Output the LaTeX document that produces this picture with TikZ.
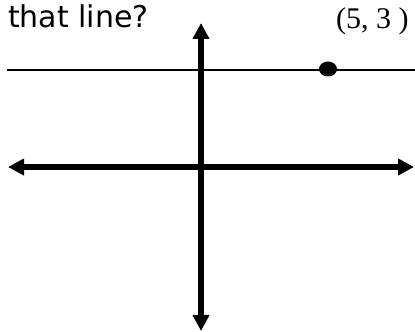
\documentclass[tikz,border=0pt]{standalone}
\usepackage{fontspec}
\setmainfont{Liberation Serif}
\newfontfamily\labelsans{DejaVu Sans}
\usetikzlibrary{arrows.meta,positioning,shapes.geometric}

\begin{document}
\begin{tikzpicture}[
		x=1pt,
		y=1pt,
		axis/.style={
			line width=5.5pt,
			{Triangle[length=16pt,width=16pt]}-{Triangle[length=16pt,width=16pt]}
		},
		level/.style={line width=2.4pt},
		dot/.style={
			ellipse,
			fill=black,
			inner sep=0pt,
			minimum width=18pt,
			minimum height=15pt
		},
		question/.style={font=\labelsans\fontsize{30}{32}\selectfont,inner sep=0pt},
		pointlabel/.style={font=\fontsize{30}{32}\selectfont,inner sep=0pt}
		]
		
		\useasboundingbox (0,0) rectangle (415,332);
		
		\coordinate (xleft) at (8,165);
		\coordinate (xright) at (414,165);
		\coordinate (ytop) at (201,309);
		\coordinate (ybottom) at (201,1);
		\coordinate (lineleft) at (7,262);
		\coordinate (lineright) at (415,262);
		
		\node[question,anchor=base west] (ask) at (8,304) {that line?};
		
		\draw[level] (lineleft) -- (lineright);
		\node[dot] (pt) at (328,263) {};
		\node[pointlabel,anchor=base west] (ptlabel) at (336,303) {(5, 3 )};
		
		\draw[axis] (xleft) -- (xright);
		\draw[axis] (ybottom) -- (ytop);
		
	\end{tikzpicture}
\end{document}
